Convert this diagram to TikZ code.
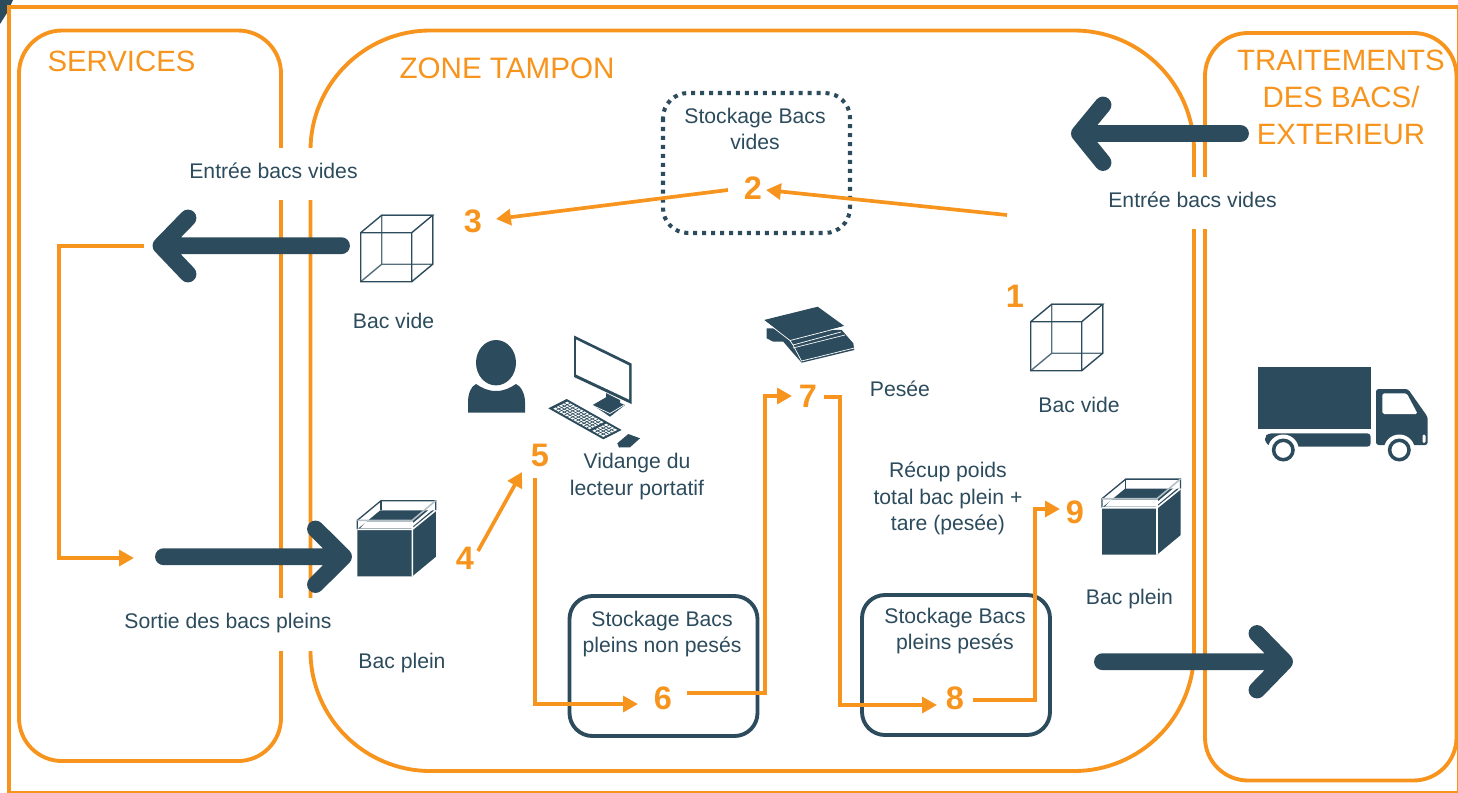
\documentclass[tikz,border=0pt]{standalone}
\usepackage{fontspec}
\setmainfont{Liberation Sans}
\usetikzlibrary{arrows.meta,calc}
\definecolor{ora}{HTML}{F7941D}
\definecolor{dk}{HTML}{2C4B5C}
\tikzset{
  x=0.02cm,y=-0.02cm,
  frameline/.style={draw=ora,line width=2.2pt},
  gapbox/.style={fill=white,inner sep=0pt,minimum width=60*0.02cm},
  tx/.style={text=dk,inner sep=0pt,align=center,font=\fontsize{12.05pt}{15pt}\selectfont},
  heading/.style={text=ora,inner sep=0pt,align=center},
  num/.style={text=ora,inner sep=0pt,font=\fontsize{18.5pt}{20pt}\selectfont\bfseries},
  flow/.style={draw=ora,line width=2.1pt,-{Triangle[length=8.5pt,width=9pt]}},
  bigarrow/.style={draw=dk,line width=9.6pt,line cap=round,line join=round},
  storebox/.style={draw=dk,line width=2.2pt,rounded corners=0.46cm},
  cubepic/.pic={
    \draw[dk!80,line width=0.8pt] (21,-17.5) rectangle (72,31.5) (0,49)--(21,31.5);
    \draw[dk,line width=0.8pt] (0,0) rectangle (51,49) (0,0)--(21,-17.5)--(72,-17.5)--(51,0) (72,-17.5)--(72,31.5)--(51,49);
  },
  fullpic/.pic={
    \fill[dk] (0,0)--(0,47)--(55,47)--(78.5,27.5)--(78.5,-19)--(23,-19)--cycle;
    \draw[dk,line width=0.75pt] (0,0)--(0,-9)--(23.7,-28.6)--(78.4,-28.6)--(78.4,-19);
    \draw[dk,line width=0.6pt] (23.7,-28.6)--(23.7,-19);
    \fill[white] (9,-8)--(54.5,-8)--(54.5,-1)--(3,-1)--cycle;
    \fill[white] (55.5,-6)--(77,-24)--(77,-21)--(55.5,-3)--cycle;
    \draw[dk!35,line width=0.9pt] (0,-9)--(55,-9)--(78.4,-28.6);
    \draw[white,line width=0.9pt] (0,0)--(55,0)--(78.4,-19) (55,-8)--(55,47);
  }
}
\begin{document}
\begin{tikzpicture}
\useasboundingbox (0,0) rectangle (1458,792);
\clip (0,0) rectangle (1458,792);
% corner remnant
\fill[dk] (0,0)--(13,0)--(7,13)--(0,24)--cycle;
% outer frame
\draw[frameline,line width=2pt] (9,7) rectangle (1459.2,792.8);
% zones
\draw[frameline,rounded corners=0.86cm] (19,30.5) rectangle (281,761);
\draw[frameline,rounded corners=2.4cm] (310.5,30.5) rectangle (1194,771);
\draw[frameline,rounded corners=0.86cm] (1205,33) rectangle (1456.5,780.5);
% gaps in the zone outlines
\node[gapbox,minimum height=52*0.02cm] (gapA) at (296,174) {};
\node[gapbox,minimum height=52*0.02cm] (gapB) at (1199.5,203) {};
\node[gapbox,minimum height=53*0.02cm] (gapC) at (296,624.5) {};
% headings
\node[heading,font=\fontsize{16.7pt}{20pt}\selectfont] (hServ) at (121.5,61.5) {SERVICES};
\node[heading,font=\fontsize{16.85pt}{20pt}\selectfont] (hZone) at (507,68) {ZONE TAMPON};
\node[heading,font=\fontsize{16.75pt}{21pt}\selectfont] (hTrait) at (1341,97.5) {TRAITEMENTS\\DES BACS/\\EXTERIEUR};
% storage boxes
\draw[dk,line width=2.3pt,dash pattern=on 2.3pt off 2.8pt,rounded corners=0.5cm] (663,93) rectangle (850,233);
\draw[storebox] (569.5,596) rectangle (757.5,736);
\draw[storebox] (862,595) rectangle (1050,735);
% labels
\node[tx] (lEntA) at (273.5,171) {Entrée bacs vides};
\node[tx] (lEntB) at (1192.5,200) {Entrée bacs vides};
\node[tx] (lSort) at (228,623.5) {Sortie des bacs pleins};
\node[tx] (lVideA) at (393.5,320.5) {Bac vide};
\node[tx] (lVideB) at (1079,404.5) {Bac vide};
\node[tx] (lPleinA) at (402,663.5) {Bac plein};
\node[tx] (lPleinB) at (1129.5,599.5) {Bac plein};
\node[tx] (lPesee) at (900,389) {Pesée};
\node[tx] (lVid) at (637,476.5) {Vidange du\\lecteur portatif};
\node[tx] (lRecup) at (948,498.5) {Récup poids\\total bac plein +\\tare (pesée)};
\node[tx] (lSV) at (755,129) {Stockage Bacs\\vides};
\node[tx] (lSN) at (662,634) {Stockage Bacs\\pleins non pesés};
\node[tx] (lSP) at (955,631) {Stockage Bacs\\pleins pesés};
% numbers
\node[num] (n1) at (1015,296) {1};
\node[num] (n2) at (753,188) {2};
\node[num] (n3) at (473,221) {3};
\node[num] (n4) at (465,558) {4};
\node[num] (n5) at (540,455) {5};
\node[num] (n6) at (663,698) {6};
\node[num] (n7) at (808,396) {7};
\node[num] (n8) at (955,698) {8};
\node[num] (n9) at (1075,512) {9};
% icons
\pic (cubeA) at (360.7,232.7) {cubepic};
\pic (cubeB) at (1030.7,321.7) {cubepic};
\pic (fullA) at (357.3,529.3) {fullpic};
\pic (fullB) at (1102,507.7) {fullpic};
% person
\fill[dk] (468,412.7)--(468,402) .. controls (468,394) and (471,386) .. (476,384) .. controls (482,388) and (488,391) .. (496,391) .. controls (504,391) and (510,388) .. (516,384) .. controls (521,386) and (525,394) .. (525,402)--(525,412.7)--cycle;
\fill[dk] (496,362.7) ellipse [x radius=20,y radius=22.7];
% computer
\fill[dk] (574,335.5)--(631.5,363.5)--(631.5,404)--(574,377)--cycle;
\fill[white] (576,339.5)--(629,365.5)--(629,399.5)--(576,374.5)--cycle;
\fill[dk] (606,393)--(620,400)--(620,408)--(606,402)--cycle;
\fill[dk] (592.7,405)--(606,397.3)--(625,405)--(610,416.7)--cycle;
\draw[white,line width=0.4pt] (592.7,405.5)--(610,413.5)--(624,405);
\begin{scope}[shift={(548.3,408.3)},x={(1.1cm,-0.62cm)},y={(0.368cm,0.186cm)}]
  \fill[dk] (0,0)--(1,0)--(1,1)--(0,1)--cycle;
  \fill[white] (0.05,0.12)--(0.71,0.12)--(0.71,0.88)--(0.05,0.88)--cycle;
  \fill[white] (0.76,0.12)--(0.96,0.12)--(0.96,0.88)--(0.76,0.88)--cycle;
  \foreach \r in {0.27,0.42,0.57,0.72} {\draw[dk,line width=0.35pt] (0.05,\r)--(0.71,\r) (0.76,\r)--(0.96,\r);}
  \foreach \c in {1,...,12} {\draw[dk,line width=0.35pt] ({0.05+\c*0.051},0.12)--({0.05+\c*0.051},0.88);}
  \foreach \c in {0.81,0.86,0.91} {\draw[dk,line width=0.35pt] (\c,0.12)--(\c,0.88);}
\end{scope}
\fill[dk] (617.3,443.3)--(628.3,434)--(640,438.3)--(630,447.3)--(619,447.5)--cycle;
% scales
\fill[dk] (766.7,328.3)--(766.7,338.3)--(773.3,341.7)--(783.3,341.7)--(793.3,353.3)--(801.7,362.7)--(854.3,350)--(853.3,343.3)--(841.7,330)--cycle;
\fill[dk] (764,320)--(817.7,306.7)--(844.3,326)--(790,340)--cycle;
\draw[white,line width=0.4pt] (764,320.5)--(790,340.5)--(844.5,326.5) (790,340.5)--(793,345)--(841,332) (793,348)--(845,335) (793,345)--(801.5,361)--(854.3,348);
% truck
\fill[dk] (1258.3,367.3) rectangle (1370.7,429);
\fill[dk,rounded corners=2pt] (1370.7,433.3)--(1268,433.3)--(1265,437)--(1265,442)--(1270,446.7)--(1370.7,446.7)--cycle;
\fill[dk,rounded corners=1.5pt] (1376,445)--(1376,389)--(1408,389)--(1427.7,417)--(1427.7,445)--cycle;
\fill[white,rounded corners=1pt] (1382.3,393.3)--(1406.7,393.3)--(1417.7,414)--(1382.3,414)--cycle;
\fill[white,rounded corners=0.8pt] (1422.5,434.5) rectangle (1425.5,443);
\fill[white] (1283.3,450) circle [radius=15.5];
\fill[white] (1399.3,450) circle [radius=15.5];
\fill[white] (1262,447.5) rectangle (1300,466);
\fill[white] (1382,446.5) rectangle (1430,466);
\draw[dk,line width=2pt] (1283.3,450) circle [radius=9.7];
\draw[dk,line width=2pt] (1399.3,450) circle [radius=9.7];
% big arrows
\coordinate (aA) at (341.5,245.7); \coordinate (tA) at (161,245.7);
\draw[bigarrow] (aA)--(tA) ($(tA)+(27,-27.7)$)--(tA)--($(tA)+(27,28.3)$);
\coordinate (aB) at (163.5,556.7); \coordinate (tB) at (343.5,556.7);
\draw[bigarrow] (aB)--(tB) ($(tB)+(-28,-27.7)$)--(tB)--($(tB)+(-28,27.8)$);
\coordinate (aC) at (1240.5,133.5); \coordinate (tC) at (1079.5,133.5);
\draw[bigarrow] (aC)--(tC) ($(tC)+(23.5,-28.5)$)--(tC)--($(tC)+(23.5,29)$);
\coordinate (aD) at (1102.5,661.7); \coordinate (tD) at (1284.5,661.7);
\draw[bigarrow] (aD)--(tD) ($(tD)+(-27.5,-28.2)$)--(tD)--($(tD)+(-27.5,28.3)$);
% numbered flow
\coordinate (fIn) at (1007,215);
\draw[flow] (fIn)--($(n2)+(13,2)$);
\draw[flow] ($(n2)+(-25,2)$)--($(n3)+(23,-2)$);
\draw[flow] ($(n4)+(13,-7)$)--($(n5)+(-18,17)$);
\draw[flow] ($(n5)+(-5,23)$)|-($(n6)+(-25,6)$);
\draw[flow] ($(n6)+(24,-5)$)-|(765,396)--($(n7)+(-16,0)$);
\draw[flow] ($(n7)+(16,1)$)-|(840,705)--($(n8)+(-18,7)$);
\draw[flow] ($(n8)+(18,2)$)-|(1035,509)--($(n9)+(-15,-3)$);
\coordinate (lA) at (144,245.7); \coordinate (lB) at (134,558);
\draw[flow] (lA)-|(59,558)--(lB);
\end{tikzpicture}
\end{document}
